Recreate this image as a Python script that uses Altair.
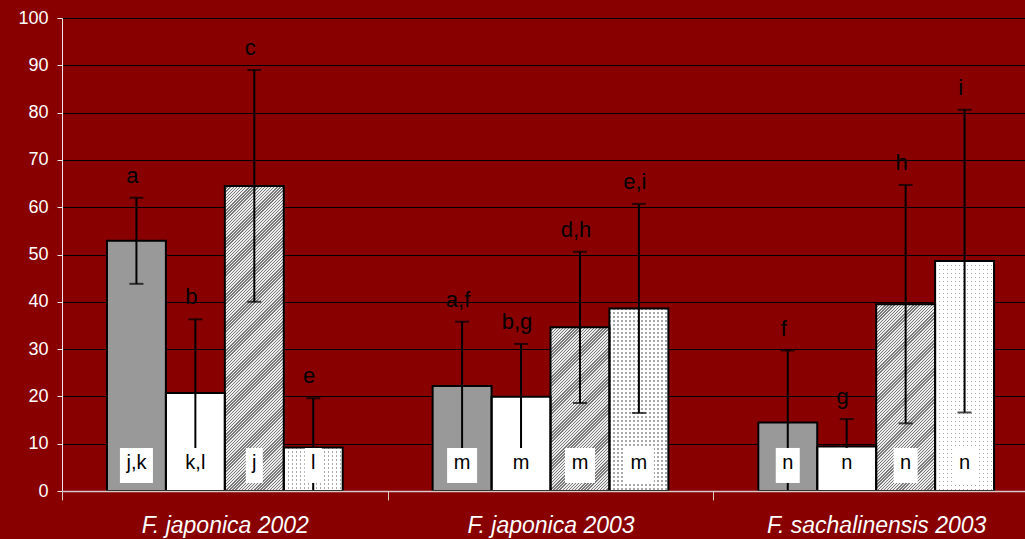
import math
import altair as alt
import pandas as pd

# ---- data -------------------------------------------------------------
groups = ["F. japonica 2002", "F. japonica 2003", "F. sachalinensis 2003"]
series = ["A", "B", "C", "D"]

# mean values per series, one entry per group
mean_a = [52.9, 22.2, 14.5]
mean_b = [20.7, 19.9, 9.4]
mean_c = [64.5, 34.6, 39.5]
mean_d = [9.2, 38.6, 48.6]

# standard deviations (error bars)
sd_a = [9.1, 13.6, 15.2]
sd_b = [15.6, 11.2, 5.8]
sd_c = [24.5, 16.0, 25.2]
sd_d = [10.4, 22.1, 32.0]

# significance letters above the error bars
top_a = ["a", "a,f", "f"]
top_b = ["b", "b,g", "g"]
top_c = ["c", "d,h", "h"]
top_d = ["e", "e,i", "i"]

# letters in the boxes at the base of the bars
base_a = ["j,k", "m", "n"]
base_b = ["k,l", "m", "n"]
base_c = ["j", "m", "n"]
base_d = ["l", "m", "n"]

# ---- layout / style ---------------------------------------------------
W_VIEW = 963          # visible plot width
X_RANGE = 977         # three full group bands (last one runs past the edge)
H = 473
PAD_OUTER = 0.763     # gap before first / after last bar in a group
BG = "#880000"
FONT = "Liberation Sans"
GREY = "#999999"

rows = []
for s, m, sd, top, base in zip(
    series,
    [mean_a, mean_b, mean_c, mean_d],
    [sd_a, sd_b, sd_c, sd_d],
    [top_a, top_b, top_c, top_d],
    [base_a, base_b, base_c, base_d],
):
    for g, mv, sv, tl, bl in zip(groups, m, sd, top, base):
        rows.append(dict(group=g, series=s, mean=mv, lo=mv - sv, hi=mv + sv,
                         top=tl, base=bl))
df = pd.DataFrame(rows)

bar_w = (X_RANGE / len(groups)) / (len(series) + 2 * PAD_OUTER)

x_enc = alt.X(
    "group:N",
    scale=alt.Scale(domain=groups, range=[0, X_RANGE], paddingInner=0, paddingOuter=0),
    axis=alt.Axis(
        title=None, tickBand="extent", tickSize=9, tickColor="#dcc8c8",
        domainColor="#dcc8c8", domainWidth=1.5, labelFont=FONT, labelFontSize=23,
        labelFontStyle="italic", labelColor="white", labelPadding=14,
        labelAngle=0, labelLimit=400, zindex=1,
    ),
)
xo_enc = alt.XOffset(
    "series:N",
    scale=alt.Scale(domain=series, paddingInner=0, paddingOuter=PAD_OUTER),
)
y_scale = alt.Scale(domain=[0, 100], nice=False)
y_axis = alt.Axis(
    title=None, values=list(range(0, 101, 10)), tickSize=5, tickColor="#f2e6e6",
    domainColor="#f2e6e6", labelFont=FONT, labelFontSize=18, labelColor="white",
    labelPadding=9, grid=True, gridColor="#000000", gridWidth=1, gridOpacity=1,
)


def y_enc(field):
    return alt.Y(field, scale=y_scale, axis=y_axis)


def stripes(t_period, frac, c_on, c_off, **coords):
    """Hard-edged repeating stripes as a linear gradient over t in [0, 1]."""
    stops = []
    t = 0.0
    while t < 1.0:
        a = min(t + t_period * frac, 1.0)
        b = min(t + t_period, 1.0)
        stops += [(t, c_on), (a, c_on), (a, c_off), (b, c_off)]
        t += t_period
    return alt.LinearGradient(
        gradient="linear",
        stops=[alt.GradientStop(offset=round(o, 6), color=c) for o, c in stops],
        **coords,
    )


def hatch_fill(h, period=2.2):
    # 45 degree "/" stripes inside a bar of width bar_w and height h (pixels);
    # the gradient vector is scaled so t runs 0..1 from corner to corner.
    w = bar_w
    r = h / w
    k = (1 + r) / (1 + r * r)
    t_period = math.sqrt(2) * period / (w + h)
    return stripes(t_period, 0.45, "#7a7a7a", "#ececec",
                   x1=0, y1=0, x2=k, y2=k * r)


def bar_layer(sub, **mark):
    return alt.Chart(sub).mark_bar(**mark).encode(
        x=x_enc, xOffset=xo_enc, y=y_enc("mean:Q")
    )


layers = []

# plain fills
layers.append(bar_layer(df[df.series == "A"], fill=GREY))
layers.append(bar_layer(df[df.series == "B"], fill="white"))

# hatched bars
for _, r in df[df.series == "C"].iterrows():
    h = r["mean"] * H / 100
    layers.append(bar_layer(df.loc[[r.name]], fill=hatch_fill(h)))

# dotted bars: vertical grey lines, masked by horizontal white bands
for _, r in df[df.series == "D"].iterrows():
    h = r["mean"] * H / 100
    sub = df.loc[[r.name]]
    layers.append(bar_layer(sub, fill=stripes(
        4.0 / bar_w, 0.28, "#a8a8a8", "#ffffff", x1=0, y1=0, x2=1, y2=0)))
    layers.append(bar_layer(sub, fill=stripes(
        4.0 / h, 0.28, "rgba(255,255,255,0)", "#ffffff", x1=0, y1=0, x2=0, y2=1)))

# outlines
layers.append(bar_layer(df, fill="white", fillOpacity=0, stroke="black", strokeWidth=2))

# error bars
layers.append(
    alt.Chart(df).mark_rule(color="black", strokeWidth=2, clip=True).encode(
        x=x_enc, xOffset=xo_enc, y=y_enc("lo:Q"), y2="hi:Q"
    )
)
for field in ["lo:Q", "hi:Q"]:
    layers.append(
        alt.Chart(df).mark_tick(color="black", thickness=2, size=14, clip=True).encode(
            x=x_enc, xOffset=xo_enc, y=y_enc(field)
        )
    )

# white boxes behind the base letters, sized to their text
char_w = {"j": 0.222, "k": 0.5, "l": 0.222, "m": 0.833, "n": 0.556, ",": 0.278}
BASE_FS = 20
df["box_w"] = df["base"].map(lambda t: round(sum(char_w[c] for c in t) * BASE_FS + 13))
for w, sub in df.groupby("box_w"):
    layers.append(
        alt.Chart(sub).mark_bar(fill="white", width=int(w)).encode(
            x=x_enc, xOffset=xo_enc,
            y=alt.Y(datum=1.7, type="quantitative", scale=y_scale, axis=y_axis),
            y2=alt.datum(9.1),
        )
    )

layers.append(
    alt.Chart(df).mark_text(font=FONT, fontSize=BASE_FS, color="black",
                            baseline="alphabetic").encode(
        x=x_enc, xOffset=xo_enc,
        y=alt.Y(datum=4.65, type="quantitative", scale=y_scale, axis=y_axis),
        text="base:N",
    )
)

layers.append(
    alt.Chart(df).mark_text(font=FONT, fontSize=22, color="black",
                            baseline="alphabetic", dy=-15, dx=-4).encode(
        x=x_enc, xOffset=xo_enc, y=y_enc("hi:Q"), text="top:N"
    )
)

chart = (
    alt.layer(*layers)
    .properties(
        width=W_VIEW, height=H, background=BG,
        padding={"left": 62, "top": 18, "right": 0, "bottom": 48},
        autosize=alt.AutoSizeParams(type="none"),
    )
    .configure_view(strokeWidth=0, fill=BG)
)

chart.save("out.html", embed_options={"renderer": "svg", "actions": False})
